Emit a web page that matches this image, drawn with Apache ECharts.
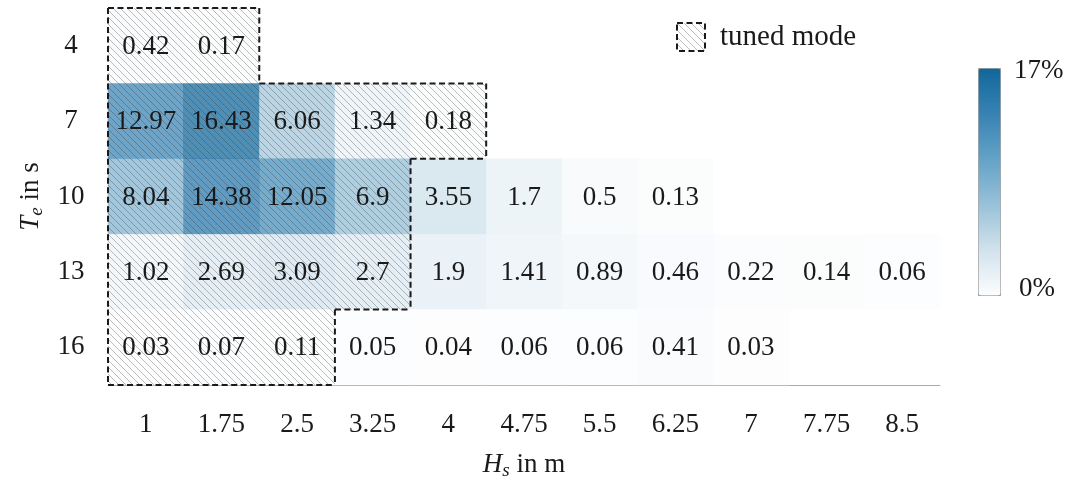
<!DOCTYPE html>
<html><head><meta charset="utf-8">
<script src="https://cdn.jsdelivr.net/npm/echarts@6/dist/echarts.min.js"></script>
<style>html,body{margin:0;padding:0;background:#fff}#c{width:1067px;height:483px}</style>
</head><body><div id="c"></div>
<script>
// ---- data ----
const hsLabels = ['1','1.75','2.5','3.25','4','4.75','5.5','6.25','7','7.75','8.5'];
const teLabels = ['4','7','10','13','16'];
const rowTe4  = [0.42, 0.17];
const rowTe7  = [12.97, 16.43, 6.06, 1.34, 0.18];
const rowTe10 = [8.04, 14.38, 12.05, 6.9, 3.55, 1.7, 0.5, 0.13];
const rowTe13 = [1.02, 2.69, 3.09, 2.7, 1.9, 1.41, 0.89, 0.46, 0.22, 0.14, 0.06];
const rowTe16 = [0.03, 0.07, 0.11, 0.05, 0.04, 0.06, 0.06, 0.41, 0.03];
const tunedCount = [2, 5, 4, 4, 3]; // leading Hs columns that belong to the tuned mode, per Te row
const colorMax = 17;
const colorStops = ['#fcfdfe', '#d2e2ec', '#98c1d8', '#64a2c7', '#3882b3', '#11679a'];

const FONT = '"Liberation Serif", "DejaVu Serif", serif';
const TXT = '#1a1a1a';
const FS = 27;

const rows = [rowTe4, rowTe7, rowTe10, rowTe13, rowTe16];
const cells = [];
rows.forEach((row, r) => row.forEach((v, c) => cells.push([c, r, v])));
const tuned = [];
tunedCount.forEach((n, r) => { for (let c = 0; c < n; c++) tuned.push([c, r]); });
const isTuned = (c, r) => r >= 0 && r < tunedCount.length && c >= 0 && c < tunedCount[r];

// hatch pattern
const HS = 7;
const hatch = document.createElement('canvas');
hatch.width = HS; hatch.height = HS;
const hx = hatch.getContext('2d');
hx.strokeStyle = 'rgba(50,50,50,0.36)'; hx.lineWidth = 0.9;
[-HS, 0, HS].forEach(k => { hx.beginPath(); hx.moveTo(k, 0); hx.lineTo(k + HS, HS); hx.stroke(); });
const hatchFill = { image: hatch, repeat: 'repeat' };

function renderHatch(params, api) {
  const c = api.value(0), r = api.value(1);
  const p = api.coord([c, r]);
  const s = api.size([1, 1]);
  const x0 = p[0] - s[0] / 2, y0 = p[1] - s[1] / 2, x1 = x0 + s[0], y1 = y0 + s[1];
  const ls = { stroke: TXT, lineWidth: 2, lineDash: [6, 3.5], fill: null };
  const ch = [{ type: 'rect', shape: { x: x0, y: y0, width: s[0], height: s[1] }, style: { fill: hatchFill } }];
  if (!isTuned(c, r - 1)) ch.push({ type: 'line', z2: 10, shape: { x1: x0, y1: y0, x2: x1, y2: y0 }, style: ls });
  if (!isTuned(c, r + 1)) ch.push({ type: 'line', z2: 10, shape: { x1: x0, y1: y1, x2: x1, y2: y1 }, style: ls });
  if (!isTuned(c - 1, r)) ch.push({ type: 'line', z2: 10, shape: { x1: x0, y1: y0, x2: x0, y2: y1 }, style: ls });
  if (!isTuned(c + 1, r)) ch.push({ type: 'line', z2: 10, shape: { x1: x1, y1: y0, x2: x1, y2: y1 }, style: ls });
  return { type: 'group', children: ch };
}
function renderLabel(params, api) {
  const p = api.coord([api.value(0), api.value(1)]);
  return { type: 'text', style: { x: p[0], y: p[1] + 1, text: String(api.value(2)), align: 'center', verticalAlign: 'middle',
    font: FS + 'px ' + FONT, fill: TXT } };
}

const chart = echarts.init(document.getElementById('c'), null, { renderer: 'canvas' });
const nameRich = {
  i: { fontStyle: 'italic', fontSize: FS, fontFamily: FONT, color: TXT, lineHeight: 30 },
  s: { fontStyle: 'italic', fontSize: 19, fontFamily: FONT, color: TXT, lineHeight: 12, verticalAlign: 'bottom' },
  n: { fontSize: FS, fontFamily: FONT, color: TXT, lineHeight: 30 }
};
chart.setOption({
  animation: false,
  backgroundColor: '#fff',
  grid: { left: 108, right: 127, top: 8, bottom: 98, outerBoundsMode: 'none', containLabel: false },
  xAxis: {
    type: 'category', data: hsLabels, position: 'bottom',
    axisLine: { show: true, lineStyle: { color: '#aaaaaa', width: 1 } },
    axisTick: { show: false }, splitLine: { show: false }, splitArea: { show: false },
    axisLabel: { fontSize: FS, fontFamily: FONT, color: TXT, margin: 26 },
    name: '{i|H}{s|s}{n| in m}', nameLocation: 'middle', nameGap: 65,
    nameTextStyle: { fontSize: FS, fontFamily: FONT, color: TXT, rich: nameRich }
  },
  yAxis: {
    type: 'category', data: teLabels, inverse: true,
    axisLine: { show: false }, axisTick: { show: false }, splitLine: { show: false },
    axisLabel: { fontSize: FS, fontFamily: FONT, color: TXT, margin: 37, align: 'center' },
    name: '{i|T}{s|e}{n| in s}', nameLocation: 'middle', nameGap: 62, nameRotate: 90,
    nameTextStyle: { fontSize: FS, fontFamily: FONT, color: TXT, rich: nameRich }
  },
  visualMap: {
    type: 'continuous', min: 0, max: colorMax, dimension: 2, seriesIndex: 0,
    orient: 'vertical', left: 978, top: 68, itemWidth: 22, itemHeight: 227,
    calculable: false, hoverLink: false, text: null, padding: 0,
    borderColor: '#999', borderWidth: 1,
    inRange: { color: colorStops }
  },
  legend: {
    left: 676, top: 22, padding: 0, itemWidth: 28, itemHeight: 28, selectedMode: false,
    data: [{ name: 'tuned mode', icon: 'rect',
      itemStyle: { color: hatchFill, borderColor: TXT, borderWidth: 2, borderType: [6, 3.5] } }],
    textStyle: { fontSize: 29, fontFamily: FONT, color: TXT, padding: [0, 0, 0, 10] }
  },
  graphic: [
    { type: 'text', left: 1014, top: 57, style: { text: '17%', font: FS + 'px ' + FONT, fill: TXT } },
    { type: 'text', left: 1019, top: 275, style: { text: '0%', font: FS + 'px ' + FONT, fill: TXT } }
  ],
  series: [
    { type: 'heatmap', data: cells, z: 2, itemStyle: { opacity: 0.76 }, label: { show: false },
      emphasis: { disabled: true } },
    { type: 'custom', name: 'tuned mode', data: tuned, z: 3, renderItem: renderHatch, silent: true,
      encode: { x: 0, y: 1 } },
    { type: 'custom', data: cells, z: 4, renderItem: renderLabel, silent: true, encode: { x: 0, y: 1 } }
  ]
});
</script></body></html>
